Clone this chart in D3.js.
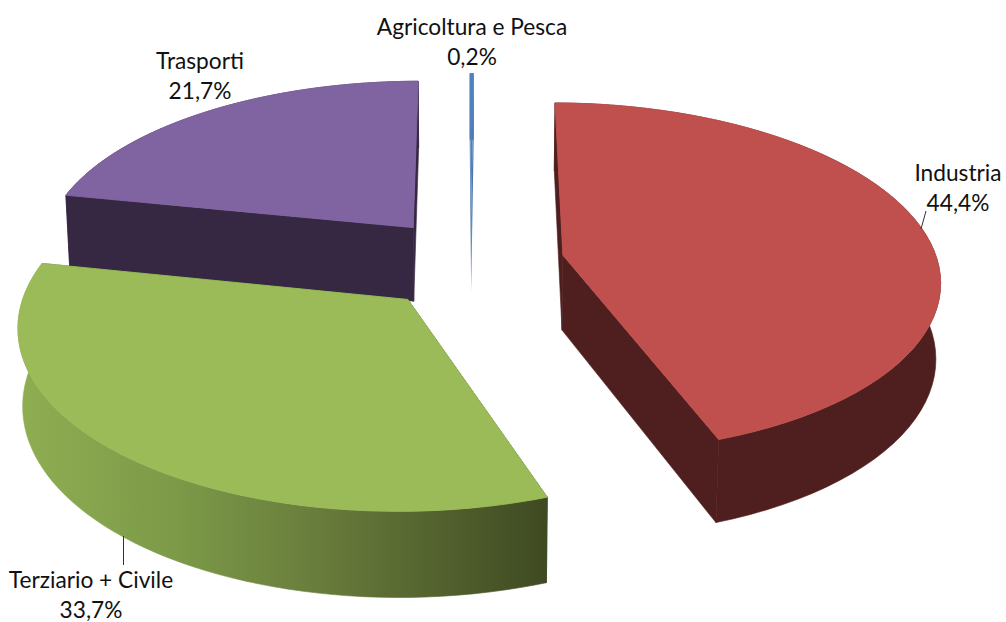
<!DOCTYPE html>
<html>
<head>
<meta charset="utf-8">
<script src="https://cdn.jsdelivr.net/npm/d3@7"></script>
<style>
body { margin: 0; background: #fff; }
text { font-family: Lato, "Open Sans", sans-serif; font-size: 22.7px; fill: #111; }
</style>
</head>
<body>
<script>
// data
var categories = ["Agricoltura e Pesca", "Industria", "Terziario + Civile", "Trasporti"];
var values = [0.2, 44.4, 33.7, 21.7];

// colours, same order as categories
var topColors = ["#4f81bd", "#c0504d", "#9bbb59", "#8064a2"];
var wallColors = ["#4a76ad", "#4f1f1f", "url(#greenWall)", "#362742"];

var width = 1006;
var height = 622;

// projection of the tilted pie, radius 1 on the ground plane
var cx = 471, cy = 263;
var radiusX = 375, radiusY = 174, persp = 0.13, thickness = 76, zShrink = 0.01;
var explodeU = 0.25, explodeV = 0.27;
var rotation = 0.1 * Math.PI / 180;

function project(u, v, z) {
    var s = 1 / (1 - persp * v + zShrink * z);
    return [cx + radiusX * u * s, cy + (radiusY * v + thickness * z) * s];
}

var svg = d3.select("body").append("svg")
    .attr("width", width)
    .attr("height", height)
    .style("display", "block");

// side of the green slice gets darker going right
var grad = svg.append("defs").append("linearGradient")
    .attr("id", "greenWall")
    .attr("gradientUnits", "userSpaceOnUse")
    .attr("x1", 17).attr("x2", 545).attr("y1", 0).attr("y2", 0);
[[0, "#8fae52"], [0.3, "#7c9a48"], [0.6, "#66793a"], [1, "#3f4a22"]].forEach(function(d) {
    grad.append("stop").attr("offset", d[0]).attr("stop-color", d[1]);
});

var halfSliver = (values[0] / 100) * Math.PI;
var pie = d3.pie().sort(null)
    .startAngle(rotation - halfSliver)
    .endAngle(rotation + 2 * Math.PI - halfSliver);
var slices = pie(values);

var line = d3.line();

// back slices first so the front ones cover them
var drawOrder = [0, 3, 1, 2];

drawOrder.forEach(function(i) {
    var d = slices[i];
    var mid = (d.startAngle + d.endAngle) / 2;
    var ou = explodeU * Math.sin(mid);
    var ov = -explodeV * Math.cos(mid);

    var angles = d3.range(0, 61).map(function(k) {
        return d.startAngle + (d.endAngle - d.startAngle) * k / 60;
    });
    var rim = function(z) {
        return angles.map(function(a) {
            return project(ou + Math.sin(a), ov - Math.cos(a), z);
        });
    };
    var apex = function(z) { return project(ou, ov, z); };

    var g = svg.append("g").attr("class", "slice");
    var solidWall = i === 2 ? "#3f4a22" : wallColors[i];
    // thin stroke hides the seams between faces, the sliver is too narrow for it
    var seam = i === 0 ? 0 : 0.6;

    // cut faces
    [angles[0], angles[60]].forEach(function(a) {
        var p = [apex(0), project(ou + Math.sin(a), ov - Math.cos(a), 0),
                 project(ou + Math.sin(a), ov - Math.cos(a), 1), apex(1)];
        g.append("path")
            .attr("d", line(p) + "Z")
            .attr("fill", solidWall)
            .attr("stroke", solidWall)
            .attr("stroke-width", seam);
    });

    // outer wall
    g.append("path")
        .attr("d", line(rim(0).concat(rim(1).reverse())) + "Z")
        .attr("fill", wallColors[i])
        .attr("stroke", wallColors[i])
        .attr("stroke-width", seam);

    // top face
    g.append("path")
        .attr("d", line([apex(0)].concat(rim(0))) + "Z")
        .attr("fill", topColors[i])
        .attr("stroke", topColors[i])
        .attr("stroke-width", seam * 1.5);
});

// leader lines and labels
var leaders = [null, [[921, 229], [926, 211]], [[123.5, 536], [123.5, 565]], null];
var labelPos = [[472, 35], [958, 181], [91, 588], [200, 69]];

leaders.forEach(function(l) {
    if (!l) return;
    svg.append("path")
        .attr("d", line(l))
        .attr("fill", "none")
        .attr("stroke", "#333")
        .attr("stroke-width", 1);
});

categories.forEach(function(c, i) {
    var t = svg.append("text")
        .attr("text-anchor", "middle")
        .attr("x", labelPos[i][0])
        .attr("y", labelPos[i][1]);
    t.append("tspan").text(c);
    t.append("tspan")
        .attr("x", labelPos[i][0])
        .attr("dy", 30)
        .text(String(values[i]).replace(".", ",") + "%");
});
</script>
</body>
</html>
